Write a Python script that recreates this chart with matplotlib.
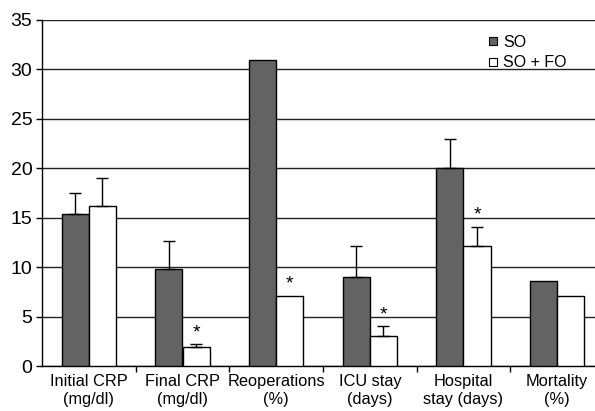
import numpy as np
import matplotlib.pyplot as plt
from matplotlib.lines import Line2D

plt.rcParams['font.family'] = ['Liberation Sans', 'DejaVu Sans']

categories = ['Initial CRP\n(mg/dl)', 'Final CRP\n(mg/dl)', 'Reoperations\n(%)',
              'ICU stay\n(days)', 'Hospital\nstay (days)', 'Mortality\n(%)']
so = [15.4, 9.8, 31.0, 9.0, 20.0, 8.6]
so_err = [2.1, 2.8, 0, 3.1, 3.0, 0]
so_fo = [16.2, 1.9, 7.1, 3.0, 12.1, 7.1]
so_fo_err = [2.8, 0.3, 0, 1.0, 2.0, 0]
# which SO + FO bars are marked significant
signif = [False, True, True, True, True, False]

fig = plt.figure(figsize=(5.95, 4.11), dpi=100)
# axes runs slightly past the right edge of the figure
ax = fig.add_axes([42 / 595, 45 / 411, 562 / 595, 346 / 411])

x = np.arange(len(categories))
w = 0.29
dark = '#636363'

ax.bar(x - w / 2, so, w, color=dark, edgecolor='black', linewidth=1, zorder=3)
ax.bar(x + w / 2, so_fo, w, color='white', edgecolor='black', linewidth=1, zorder=3)

err_kw = dict(fmt='none', ecolor='black', elinewidth=1, capsize=4, capthick=1, zorder=4)
for xi, v, e in zip(x - w / 2, so, so_err):
    if e > 0:
        ax.errorbar(xi, v, yerr=[[0], [e]], **err_kw)
for xi, v, e in zip(x + w / 2, so_fo, so_fo_err):
    if e > 0:
        ax.errorbar(xi, v, yerr=[[0], [e]], **err_kw)

for xi, v, e, s in zip(x + w / 2, so_fo, so_fo_err, signif):
    if s:
        ax.text(xi, v + e + 0.3, '*', ha='center', va='bottom', fontsize=14)

ax.set_xlim(-0.5, len(categories) - 0.5)
ax.set_ylim(0, 35)
ax.set_yticks(range(0, 36, 5))
ax.yaxis.grid(True, color='#222222', linewidth=1, zorder=0)
ax.set_axisbelow(True)

ax.set_xticks(x)
ax.set_xticklabels(categories, fontsize=11.8, linespacing=1.2)
ax.tick_params(axis='x', length=0, pad=6)
ax.set_xticks(np.arange(0.5, len(categories), 1), minor=True)
ax.tick_params(axis='x', which='minor', length=4, width=1, direction='out')
ax.tick_params(axis='y', labelsize=14, length=4, width=1, direction='out', pad=3)

for side in ['top', 'right']:
    ax.spines[side].set_visible(False)
ax.spines['left'].set_linewidth(1)
ax.spines['bottom'].set_linewidth(1)

handles = [Line2D([], [], marker='s', linestyle='none', markersize=6,
                  markerfacecolor=dark, markeredgecolor='black', markeredgewidth=0.8),
           Line2D([], [], marker='s', linestyle='none', markersize=6,
                  markerfacecolor='white', markeredgecolor='black', markeredgewidth=0.8)]
ax.legend(handles, ['SO', 'SO + FO'], loc='upper left', bbox_to_anchor=(0.775, 0.99),
          frameon=False, fontsize=11.5, handlelength=0.5, handletextpad=0.4,
          labelspacing=0.35, borderpad=0.2)

fig.savefig('out.png', dpi=100)
